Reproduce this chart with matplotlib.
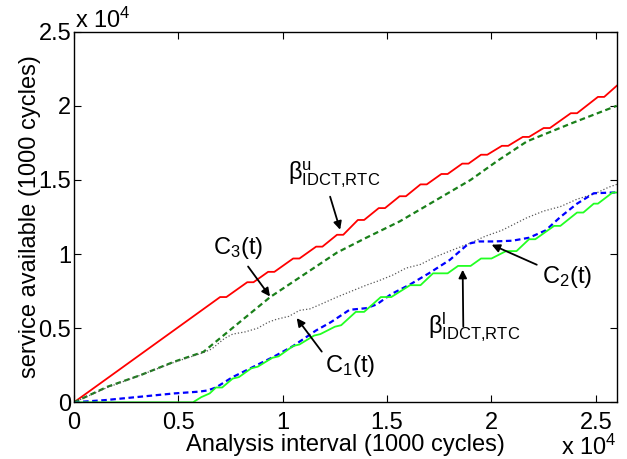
import matplotlib
matplotlib.use("Agg")
import matplotlib.pyplot as plt

plt.rcParams['font.family'] = ['Liberation Sans', 'DejaVu Sans']
plt.rcParams['mathtext.fontset'] = 'custom'
plt.rcParams['mathtext.rm'] = 'Liberation Sans'
plt.rcParams['mathtext.it'] = 'Liberation Sans'

# beta upper (red)
bu_x = [0, 7000, 7300, 8300, 8600, 9300, 9600, 10500, 10800, 11600, 11900, 12600, 12900,
        13600, 13900, 14600, 14900, 15600, 15900, 16600, 16900, 17600, 17900, 18600, 18900,
        19500, 19800, 20500, 20800, 21500, 21800, 22500, 22800, 23800, 24100, 25100, 25400, 26000]
bu_y = [0, 7100, 7100, 8100, 8100, 8800, 8800, 9700, 9700, 10500, 10500, 11300, 11300,
        12300, 12300, 13100, 13100, 13900, 13900, 14700, 14700, 15400, 15400, 16100, 16100,
        16700, 16700, 17300, 17300, 17900, 17900, 18500, 18500, 19500, 19500, 20600, 20600, 21350]

# C3 (dark green dashed)
c3_x = [0, 1600, 3200, 4800, 6200, 7800, 9400, 11000, 12600, 14000, 15600, 17300, 19000, 20300, 21700, 23800, 26000]
c3_y = [0, 1050, 1840, 2740, 3400, 5250, 7100, 8600, 10100, 11100, 12200, 13600, 15000, 16300, 17600, 18800, 20000]

# C1 (dotted)
c1_x = [0, 1600, 3200, 4800, 6200, 6600, 7200, 7600, 8200, 8800, 9300, 9700, 10300, 10800, 11300,
        11800, 12600, 13300, 14000, 14600, 15300, 15900, 16600, 17300, 18000, 19000, 19700, 20500,
        21700, 22500, 23300, 24100, 25000, 25600, 26000]
c1_y = [0, 1000, 1840, 2700, 3350, 3600, 4300, 4600, 4750, 5000, 5400, 5600, 5800, 6200, 6300,
        6600, 7100, 7500, 7900, 8200, 8600, 9050, 9300, 9800, 10200, 10750, 11200, 11600,
        12450, 12900, 13200, 13700, 14100, 14500, 14700]

# C2 (blue dashed)
c2_x = [0, 1500, 3200, 4800, 6000, 6400, 6800, 7600, 8600, 9600, 10500, 11600, 12300, 13200, 14000,
        14500, 15200, 16100, 17000, 18000, 18900, 19400, 20100, 21000, 21800, 22600, 23300, 24100, 24900, 26000]
c2_y = [0, 150, 380, 600, 720, 800, 1000, 1700, 2400, 3100, 3800, 4850, 5400, 6240, 6350,
        6600, 7300, 7950, 8700, 9600, 10700, 10850, 10850, 10900, 11100, 11600, 12500, 13400, 14100, 14160]

# beta lower (bright green)
bl_x = [0, 5700, 6100, 6500, 6800, 7100, 7600, 7900, 8500, 8800, 9500, 9800, 10500, 10800, 11500,
        11800, 12500, 12800, 13500, 13900, 14700, 15200, 16100, 16600, 17200, 17900, 18400, 19000,
        19500, 20000, 20700, 21200, 21800, 22100, 23000, 23300, 24100, 24400, 24900, 25100, 25800, 26000]
bl_y = [0, 0, 350, 600, 1000, 1000, 1600, 1700, 2300, 2400, 3000, 3100, 3800, 3900, 4500,
        4600, 5100, 5200, 6100, 6100, 7100, 7100, 7900, 7900, 8700, 8700, 9200, 9200,
        9700, 9700, 10200, 10200, 11000, 11000, 11900, 11900, 12800, 12800, 13400, 13400, 14150, 14150]

ticks = [0, 5000, 10000, 15000, 20000, 25000]
tick_labels = ["0", "0.5", "1", "1.5", "2", "2.5"]

fig = plt.figure(figsize=(6.27, 4.59), dpi=100)
ax = fig.add_axes([0.118, 0.1235, 0.8656, 0.8075])

ax.plot(bu_x, bu_y, color='#ff0000', lw=1.3)
ax.plot(c3_x, c3_y, color='#1a801a', lw=1.6, dashes=(2.5, 1.6))
ax.plot(c1_x, c1_y, color='0.35', lw=0.9, linestyle=':')
ax.plot(c2_x, c2_y, color='#0000ff', lw=1.6, dashes=(2.5, 1.6))
ax.plot(bl_x, bl_y, color='#22ff22', lw=1.3)

ax.set_xlim(0, 26000)
ax.set_ylim(0, 25000)
ax.set_xticks(ticks)
ax.set_xticklabels(tick_labels)
ax.set_yticks(ticks)
ax.set_yticklabels(tick_labels)
ax.tick_params(direction='in', length=5, width=0.8, top=True, right=True, labelsize=17)
ax.tick_params(axis='x', pad=7)
ax.tick_params(axis='y', pad=2)
for s in ax.spines.values():
    s.set_linewidth(1.0)

ax.set_xlabel("Analysis interval (1000 cycles)", fontsize=17, labelpad=0)
ax.set_ylabel("service available (1000 cycles)", fontsize=17, labelpad=-2)

fig.text(75 / 627, 1 - 28 / 459, r"x 10$^{4}$", fontsize=17, ha='left', va='baseline')
fig.text(617 / 627, 1 - 455 / 459, r"x 10$^{4}$", fontsize=17, ha='right', va='baseline')

arr = dict(arrowstyle='-|>', color='black', lw=1.3, mutation_scale=12, shrinkA=0, shrinkB=0)
ax.annotate('', xy=(12750, 11640), xytext=(12270, 13870), arrowprops=arr)
ax.annotate('', xy=(9390, 7140), xytext=(8340, 9160), arrowprops=arr)
ax.annotate('', xy=(10670, 5680), xytext=(11870, 3420), arrowprops=arr)
ax.annotate('', xy=(20010, 10630), xytext=(22170, 9280), arrowprops=arr)
ax.annotate('', xy=(18620, 8940), xytext=(18650, 5110), arrowprops=arr)

ax.text(10250, 15020, r"$\mathregular{\beta^{u}_{IDCT{,}RTC}}$", fontsize=17, ha='left', va='baseline')
ax.text(6660, 10020, r"C$_\mathregular{3}$(t)", fontsize=17, ha='left', va='baseline')
ax.text(12030, 2070, r"C$_\mathregular{1}$(t)", fontsize=17, ha='left', va='baseline')
ax.text(22410, 8060, r"C$_\mathregular{2}$(t)", fontsize=17, ha='left', va='baseline')
ax.text(16960, 4680, r"$\mathregular{\beta^{l}_{IDCT{,}RTC}}$", fontsize=17, ha='left', va='baseline')

fig.savefig("out.png", dpi=100)
